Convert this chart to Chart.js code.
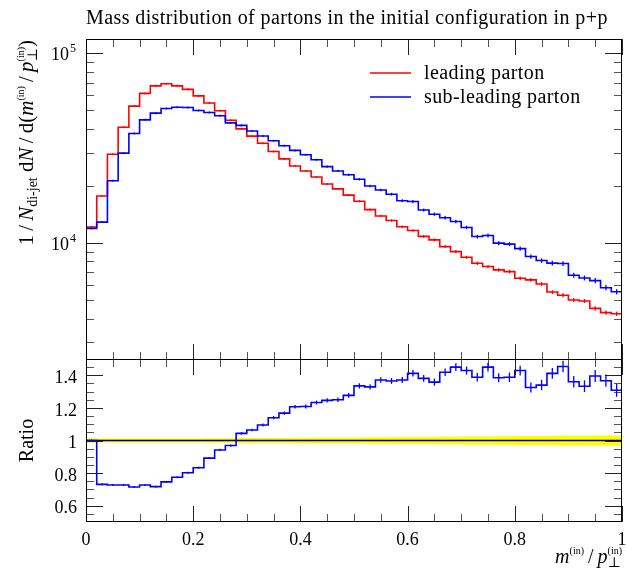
<!DOCTYPE html>
<html lang="en">
<head>
<meta charset="UTF-8" />
<title>Mass distribution of partons</title>
<script src="https://cdn.jsdelivr.net/npm/chart.js"></script>
<style>
  body { margin: 0; background: #fff; }
  #wrap { position: relative; width: 627px; height: 572px; }
  canvas { position: absolute; left: 0; }
  #top { top: 0; }
  #ratio { top: 350px; }
</style>
</head>
<body>
<div id="wrap">
  <canvas id="top" width="627" height="361"></canvas>
  <canvas id="ratio" width="627" height="222"></canvas>
</div>
<script>
// bins of m/pT, 0.02 wide
const binEdges = [0, 0.02, 0.04, 0.06, 0.08, 0.1, 0.12, 0.14, 0.16, 0.18, 0.2,
  0.22, 0.24, 0.26, 0.28, 0.3, 0.32, 0.34, 0.36, 0.38, 0.4,
  0.42, 0.44, 0.46, 0.48, 0.5, 0.52, 0.54, 0.56, 0.58, 0.6,
  0.62, 0.64, 0.66, 0.68, 0.7, 0.72, 0.74, 0.76, 0.78, 0.8,
  0.82, 0.84, 0.86, 0.88, 0.9, 0.92, 0.94, 0.96, 0.98, 1];

const leading = [12150, 17700, 29400, 40800, 52700, 61500, 67400, 69100, 67400, 64600,
  59700, 54700, 49800, 44400, 40000, 36600, 33600, 30400, 27800, 25500,
  24000, 22300, 20500, 19300, 17900, 16600, 15000, 13900, 13150, 12200,
  11650, 10850, 10400, 9580, 9020, 8420, 7830, 7520, 7220, 7070,
  6530, 6400, 6090, 5520, 5310, 5010, 4950, 4530, 4300, 4240];

const subLeading = [11960, 12900, 21300, 29800, 37800, 44600, 48400, 51200, 52000, 51800,
  50000, 48800, 46900, 43000, 41700, 39000, 36700, 34600, 32600, 30800,
  29200, 27500, 25300, 24000, 22900, 21700, 20000, 19050, 18100, 16700,
  16550, 14950, 14200, 13600, 12990, 12080, 10830, 10960, 9990, 9870,
  9350, 8490, 8090, 7840, 7800, 6770, 6550, 6340, 5820, 5540];

// relative stat. errors
const leadingErr = [0.004, 0.004, 0.003, 0.003, 0.003, 0.003, 0.003, 0.003, 0.004, 0.004,
  0.005, 0.005, 0.006, 0.006, 0.007, 0.007, 0.008, 0.008, 0.009, 0.009,
  0.010, 0.011, 0.011, 0.012, 0.012, 0.013, 0.014, 0.014, 0.015, 0.015,
  0.016, 0.017, 0.017, 0.018, 0.018, 0.019, 0.020, 0.020, 0.021, 0.021,
  0.022, 0.022, 0.023, 0.023, 0.024, 0.024, 0.025, 0.025, 0.026, 0.026];
const subLeadingErr = [0.004, 0.005, 0.004, 0.004, 0.003, 0.003, 0.003, 0.004, 0.004, 0.004,
  0.005, 0.005, 0.006, 0.007, 0.007, 0.008, 0.009, 0.009, 0.010, 0.011,
  0.011, 0.012, 0.013, 0.013, 0.014, 0.015, 0.016, 0.016, 0.017, 0.018,
  0.019, 0.019, 0.020, 0.021, 0.022, 0.022, 0.023, 0.024, 0.025, 0.025,
  0.026, 0.027, 0.028, 0.028, 0.029, 0.030, 0.030, 0.031, 0.032, 0.032];

// sub-leading / leading
const ratio = [1.0, 0.731, 0.727, 0.727, 0.715, 0.727, 0.717, 0.746, 0.775, 0.802,
  0.833, 0.892, 0.942, 0.969, 1.044, 1.064, 1.095, 1.140, 1.168, 1.207,
  1.209, 1.233, 1.246, 1.250, 1.277, 1.335, 1.329, 1.371, 1.365, 1.371,
  1.412, 1.381, 1.358, 1.419, 1.450, 1.429, 1.388, 1.450, 1.385, 1.388,
  1.429, 1.325, 1.340, 1.412, 1.454, 1.360, 1.333, 1.396, 1.367, 1.308];
const ratioErr = [0.006, 0.004, 0.004, 0.004, 0.004, 0.004, 0.004, 0.005, 0.005, 0.005,
  0.006, 0.006, 0.007, 0.007, 0.008, 0.008, 0.009, 0.010, 0.010, 0.011,
  0.012, 0.012, 0.013, 0.014, 0.015, 0.016, 0.016, 0.017, 0.018, 0.019,
  0.020, 0.021, 0.022, 0.023, 0.024, 0.025, 0.026, 0.027, 0.028, 0.029,
  0.030, 0.031, 0.032, 0.033, 0.035, 0.035, 0.036, 0.037, 0.038, 0.040];
// half-width of the reference (leading) uncertainty band
const bandErr = [0.014, 0.013, 0.012, 0.012, 0.012, 0.012, 0.012, 0.012, 0.013, 0.013,
  0.013, 0.014, 0.014, 0.014, 0.015, 0.015, 0.016, 0.016, 0.016, 0.017,
  0.017, 0.018, 0.018, 0.018, 0.019, 0.019, 0.020, 0.020, 0.020, 0.021,
  0.021, 0.022, 0.022, 0.023, 0.023, 0.024, 0.025, 0.025, 0.026, 0.026,
  0.027, 0.027, 0.028, 0.028, 0.031, 0.029, 0.029, 0.030, 0.030, 0.031];

const xTickLabels = [0, 0.2, 0.4, 0.6, 0.8, 1];
const ratioTickLabels = [0.6, 0.8, 1, 1.2, 1.4];
const logTickLabels = [4, 5];

const SERIF = '"Liberation Serif", "DejaVu Serif", serif';
const RED = '#ff0000', BLUE = '#0000ff';

function steps(vals) {
  const pts = vals.map((v, i) => ({ x: binEdges[i], y: v }));
  pts.push({ x: binEdges[binEdges.length - 1], y: vals[vals.length - 1] });
  return pts;
}

function measureRuns(ctx, runs, base) {
  let x = 0, over = 0;
  const items = [];
  runs.forEach(r => {
    const font = (r.i ? 'italic ' : '') + (r.s || base) + 'px ' + SERIF;
    ctx.font = font;
    const w = ctx.measureText(r.t).width;
    items.push({ r, x, font });
    if (r.over) { over = w; return; }
    x += Math.max(w, over);
    over = 0;
  });
  return { items, width: x };
}
function drawRuns(ctx, runs, base, x0, y0, align) {
  const m = measureRuns(ctx, runs, base);
  const sx = align === 'right' ? x0 - m.width : align === 'center' ? x0 - m.width / 2 : x0;
  ctx.textAlign = 'left';
  ctx.textBaseline = 'alphabetic';
  m.items.forEach(it => {
    ctx.font = it.font;
    ctx.fillText(it.r.t, sx + it.x, y0 + (it.r.dy || 0));
  });
}

// inside ticks on all four sides + box
const framePlugin = {
  id: 'frame',
  afterDatasetsDraw(chart, args, o) {
    const { ctx, chartArea: a } = chart;
    const xs = chart.scales.x, ys = chart.scales.y;
    ctx.save();
    ctx.lineWidth = 1;
    const seg = (x1, y1, x2, y2, c) => {
      ctx.strokeStyle = c;
      ctx.beginPath(); ctx.moveTo(x1, y1); ctx.lineTo(x2, y2); ctx.stroke();
    };
    for (let k = 0; k <= 20; k++) {
      const v = k * 0.05, major = k % 4 === 0;
      const len = major ? 16 : 8, c = major ? '#222' : '#555';
      const px = Math.round(xs.getPixelForValue(v)) + 0.5;
      seg(px, a.bottom, px, a.bottom - len, c);
      seg(px, a.top, px, a.top + len, c);
    }
    o.yTicks.forEach(t => {
      const py = Math.round(ys.getPixelForValue(t.v)) + 0.5;
      if (py < a.top + 1 || py > a.bottom - 1) return;
      const len = t.major ? 17 : 8, c = t.major ? '#222' : '#555';
      seg(a.left, py, a.left + len, py, c);
      seg(a.right, py, a.right - len, py, c);
    });
    ctx.strokeStyle = '#000';
    ctx.strokeRect(a.left + 0.5, a.top + 0.5, a.width - 1, a.height - 1);
    ctx.restore();
  }
};

// error bars at bin centres
const errPlugin = {
  id: 'errbars',
  afterDatasetsDraw(chart) {
    const { ctx } = chart;
    const xs = chart.scales.x, ys = chart.scales.y;
    ctx.save();
    chart.data.datasets.forEach(ds => {
      if (!ds.errors) return;
      ctx.strokeStyle = ds.borderColor;
      ctx.lineWidth = 1.3;
      ds.values.forEach((v, i) => {
        const e = ds.relative ? v * ds.errors[i] : ds.errors[i];
        const px = xs.getPixelForValue((binEdges[i] + binEdges[i + 1]) / 2);
        let lo = ys.getPixelForValue(v - e), hi = ys.getPixelForValue(v + e);
        if (lo - hi < 2) { const m = (lo + hi) / 2; lo = m + 1; hi = m - 1; }
        ctx.beginPath(); ctx.moveTo(px, lo); ctx.lineTo(px, hi); ctx.stroke();
      });
    });
    ctx.restore();
  }
};

const topText = {
  id: 'topText',
  afterDraw(chart) {
    const { ctx, chartArea: a } = chart;
    const ys = chart.scales.y;
    ctx.save();
    ctx.fillStyle = '#000';
    // title
    ctx.font = '20px ' + SERIF;
    ctx.letterSpacing = '0.4px';
    ctx.textAlign = 'left';
    ctx.textBaseline = 'alphabetic';
    ctx.fillText('Mass distribution of partons in the initial configuration in p+p', a.left, 24);
    ctx.letterSpacing = '0px';
    // 10^k labels
    logTickLabels.forEach(k => {
      const py = ys.getPixelForValue(Math.pow(10, k));
      ctx.font = '12px ' + SERIF;
      ctx.textAlign = 'right';
      ctx.fillText(String(k), 76, py - 1);
      const ew = ctx.measureText(String(k)).width;
      ctx.font = '18px ' + SERIF;
      ctx.fillText('10', 76 - ew - 1, py + 7);
    });
    // y title, rotated
    ctx.save();
    ctx.translate(33, a.top + 1);
    ctx.rotate(-Math.PI / 2);
    drawRuns(ctx, [
      { t: '1\u2009/\u2009' }, { t: 'N', i: 1 }, { t: 'di-jet', s: 14, dy: 4 },
      { t: ' d' }, { t: 'N', i: 1 }, { t: '\u2009/\u2009d(' }, { t: 'm', i: 1 },
      { t: '(in)', s: 10, dy: -9 }, { t: '\u2009/\u2009' }, { t: 'p', i: 1 },
      { t: '(in)', s: 10, dy: -9, over: 1 }, { t: '\u22a5', s: 14, dy: 4 }, { t: ')' }
    ], 21, 0, 0, 'right');
    ctx.restore();
    // legend
    const rows = [[chart.data.datasets[0], 73], [chart.data.datasets[1], 97]];
    rows.forEach(([ds, y]) => {
      ctx.strokeStyle = ds.borderColor;
      ctx.lineWidth = 1.6;
      ctx.beginPath(); ctx.moveTo(370, y); ctx.lineTo(411, y); ctx.stroke();
      ctx.font = '20px ' + SERIF;
      ctx.letterSpacing = '0.4px';
      ctx.textAlign = 'left';
      ctx.fillText(ds.label, 424, y + 6);
      ctx.letterSpacing = '0px';
    });
    ctx.restore();
  }
};

const ratioText = {
  id: 'ratioText',
  afterDraw(chart) {
    const { ctx, chartArea: a } = chart;
    const xs = chart.scales.x, ys = chart.scales.y;
    ctx.save();
    ctx.fillStyle = '#000';
    ctx.font = '18px ' + SERIF;
    ctx.textBaseline = 'alphabetic';
    ctx.textAlign = 'center';
    xTickLabels.forEach(v => ctx.fillText(String(v), xs.getPixelForValue(v), a.bottom + 23));
    ctx.textAlign = 'right';
    ctx.textBaseline = 'middle';
    ratioTickLabels.forEach(v => ctx.fillText(String(v), 77, ys.getPixelForValue(v) + 3));
    // Ratio label
    ctx.save();
    ctx.translate(33, ys.getPixelForValue(1));
    ctx.rotate(-Math.PI / 2);
    ctx.font = '20px ' + SERIF;
    ctx.textAlign = 'center';
    ctx.textBaseline = 'alphabetic';
    ctx.fillText('Ratio', 0, 0);
    ctx.restore();
    // x title
    drawRuns(ctx, [
      { t: 'm', i: 1 }, { t: '(in)', s: 10, dy: -9 }, { t: '\u2009/\u2009' }, { t: 'p', i: 1 },
      { t: '(in)', s: 10, dy: -9, over: 1 }, { t: '\u22a5', s: 14, dy: 4 }
    ], 20, a.right, a.bottom + 41, 'right');
    ctx.restore();
  }
};

const logTicks = [];
[3, 4, 5].forEach(k => {
  for (let m = 1; m <= 9; m++) logTicks.push({ v: m * Math.pow(10, k), major: m === 1 });
});
const linTicks = [];
for (let k = 10; k <= 30; k++) linTicks.push({ v: k * 0.05, major: k % 4 === 0 });

const common = {
  responsive: false,
  animation: false,
  devicePixelRatio: 1,
  events: [],
  elements: { point: { radius: 0 }, line: { borderWidth: 1.6, tension: 0 } }
};

new Chart(document.getElementById('top'), {
  type: 'line',
  data: {
    datasets: [
      { label: 'leading parton', data: steps(leading), values: leading, errors: leadingErr, relative: true,
        borderColor: RED, stepped: 'before', fill: false, order: 2 },
      { label: 'sub-leading parton', data: steps(subLeading), values: subLeading, errors: subLeadingErr, relative: true,
        borderColor: BLUE, stepped: 'before', fill: false, order: 1 }
    ]
  },
  options: Object.assign({}, common, {
    layout: { padding: { left: 86, right: 5, top: 39, bottom: 1 } },
    plugins: { legend: { display: false }, tooltip: { enabled: false }, frame: { yTicks: logTicks } },
    scales: {
      x: { type: 'linear', min: 0, max: 1, display: false },
      y: { type: 'logarithmic', min: 2420, max: 119000, display: false }
    }
  }),
  plugins: [framePlugin, errPlugin, topText]
});

new Chart(document.getElementById('ratio'), {
  type: 'line',
  data: {
    datasets: [
      { label: 'band low', data: steps(ratio.map((r, i) => 1 - bandErr[i])), borderColor: 'rgba(0,0,0,0)',
        borderWidth: 0, stepped: 'before', fill: false, order: 4 },
      { label: 'band high', data: steps(ratio.map((r, i) => 1 + bandErr[i])), borderColor: 'rgba(0,0,0,0)',
        borderWidth: 0, backgroundColor: '#ffff00', stepped: 'before', fill: 0, order: 3 },
      { label: 'leading', data: steps(leading.map(v => v / v)), borderColor: '#000', borderWidth: 1.6,
        stepped: 'before', fill: false, order: 2 },
      { label: 'sub-leading / leading', data: steps(ratio), values: ratio, errors: ratioErr, relative: false,
        borderColor: BLUE, stepped: 'before', fill: false, order: 1 }
    ]
  },
  options: Object.assign({}, common, {
    layout: { padding: { left: 86, right: 5, top: 9, bottom: 50 } },
    plugins: { legend: { display: false }, tooltip: { enabled: false }, frame: { yTicks: linTicks } },
    scales: {
      x: { type: 'linear', min: 0, max: 1, display: false },
      y: { type: 'linear', min: 0.5, max: 1.5, display: false }
    }
  }),
  plugins: [framePlugin, errPlugin, ratioText]
});
</script>
</body>
</html>
